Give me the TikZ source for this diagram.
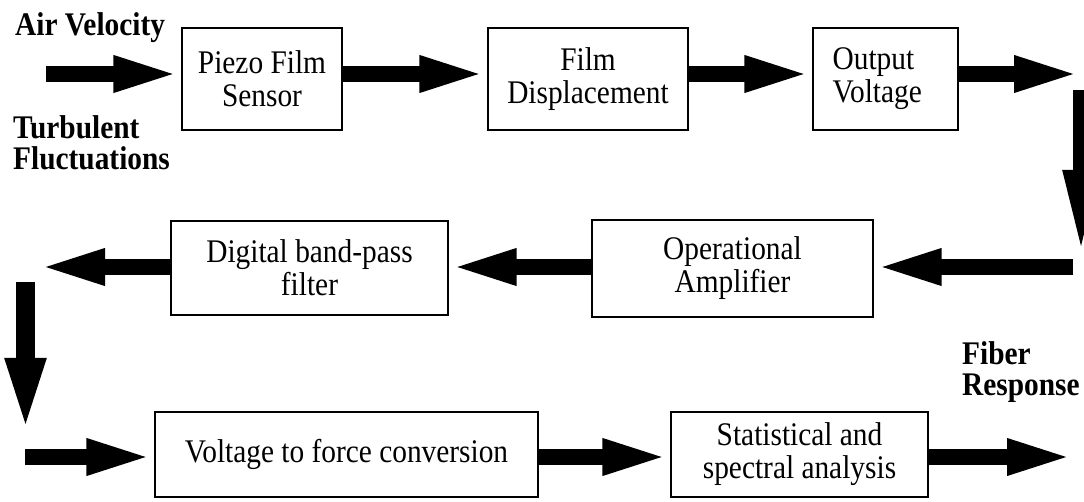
\documentclass[tikz,border=0pt]{standalone}
\usepackage{fontspec}
\setmainfont{Liberation Serif}[FakeStretch=0.89]
\usetikzlibrary{arrows.meta}
\begin{document}
\begin{tikzpicture}[x=1pt,y=-1pt,
    font=\fontsize{33}{33}\selectfont,
    blk/.style={draw,line width=1.1pt,align=center,inner sep=0pt},
    lbl/.style={font=\fontsize{33}{31}\selectfont\bfseries,align=left,inner sep=0pt,anchor=north west},
    fatarrow/.style={line width=16pt,-{Triangle[length=68pt,width=32pt]}}]

    \def\h{102pt}	 %height of top row boxes
    \def\hb{85pt}	 %height of bottom row boxes

    \useasboundingbox (0,0) rectangle (1084,502);

    %BOXES
    \node[blk,minimum width=160pt,minimum height=\h] (pfs) at (262,79) {Piezo Film\\Sensor};
    \node[blk,minimum width=200pt,minimum height=\h] (fd) at (588,79) {Film\\Displacement};
    \node[blk,minimum width=145pt,minimum height=\h,
        label={[align=left,anchor=west,inner sep=0pt,xshift=20pt]west:Output\\Voltage}] (ov) at (885.5,79) {};
    \node[blk,minimum width=281pt,minimum height=97pt] (oa) at (732.5,268.5) {Operational\\Amplifier};
    \node[blk,minimum width=277pt,minimum height=94pt] (dbf) at (309.5,268) {Digital band-pass\\filter};
    \node[blk,minimum width=383pt,minimum height=\hb] (vfc) at (346.5,454.5) {Voltage to force conversion};
    \node[blk,minimum width=257pt,minimum height=\hb] (sa) at (799.5,454.5) {Statistical and\\spectral analysis};

    %LABELS
    \node[lbl] (av) at (15,12) {Air Velocity};
    \node[lbl] (tf) at (13,115) {Turbulent\\Fluctuations};
    \node[lbl] (fr) at (962,341) {Fiber\\Response};

    %ENDS OF THE FREE ARROWS
    \coordinate (in1) at (46,74);	 \coordinate (out1) at (1082,74);
    \coordinate (dn1) at (1081,90);	 \coordinate (dn1e) at (1081,257);
    \coordinate (in2) at (1073,267);	 \coordinate (out2) at (37,267);
    \coordinate (dn2) at (25.5,282);	 \coordinate (dn2e) at (25.5,437);
    \coordinate (in3) at (25,457);	 \coordinate (out3) at (1075,457);

    %ARROWS
    \draw[fatarrow] (in1) -- (in1 -| pfs.west);
    \draw[fatarrow] (pfs.east |- in1) -- (fd.west |- in1);
    \draw[fatarrow] (fd.east |- in1) -- (ov.west |- in1);
    \draw[fatarrow] (ov.east |- in1) -- (out1);
    \draw[fatarrow,-{Triangle[length=87pt,width=32pt]}] (dn1) -- (dn1e);	%down the right side
    \draw[fatarrow] (in2) -- (in2 -| oa.east);
    \draw[fatarrow] (oa.west |- in2) -- (dbf.east |- in2);
    \draw[fatarrow] (dbf.west |- in2) -- (out2);
    \draw[fatarrow,line width=19pt,-{Triangle[length=79pt,width=35pt]}] (dn2) -- (dn2e);	%down the left side
    \draw[fatarrow] (in3) -- (in3 -| vfc.west);
    \draw[fatarrow] (vfc.east |- in3) -- (sa.west |- in3);
    \draw[fatarrow] (sa.east |- in3) -- (out3);
\end{tikzpicture}
\end{document}
